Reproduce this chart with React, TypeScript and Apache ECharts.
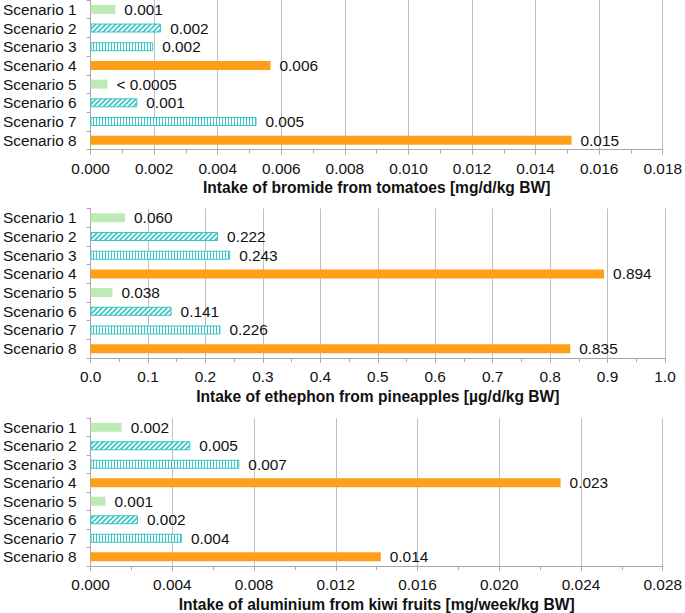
import React, { useEffect, useRef } from "react";
import * as echarts from "echarts";

const categories = [
  "Scenario 1",
  "Scenario 2",
  "Scenario 3",
  "Scenario 4",
  "Scenario 5",
  "Scenario 6",
  "Scenario 7",
  "Scenario 8",
];

// Panel 1: bromide from tomatoes [mg/d/kg BW]
const bromideValues = [0.00078, 0.00222, 0.00197, 0.00566, 0.00053, 0.00147, 0.00522, 0.01513];
const bromideLabels = ["0.001", "0.002", "0.002", "0.006", "< 0.0005", "0.001", "0.005", "0.015"];

// Panel 2: ethephon from pineapples [µg/d/kg BW]
const ethephonValues = [0.060, 0.222, 0.243, 0.894, 0.038, 0.141, 0.226, 0.835];
const ethephonLabels = ["0.060", "0.222", "0.243", "0.894", "0.038", "0.141", "0.226", "0.835"];

// Panel 3: aluminium from kiwi fruits [mg/week/kg BW]
const aluminiumValues = [0.00152, 0.00488, 0.00728, 0.0230, 0.00073, 0.00232, 0.00447, 0.0142];
const aluminiumLabels = ["0.002", "0.005", "0.007", "0.023", "0.001", "0.002", "0.004", "0.014"];

const axisTitles = [
  "Intake of bromide from tomatoes [mg/d/kg BW]",
  "Intake of ethephon from pineapples [µg/d/kg BW]",
  "Intake of aluminium from kiwi fruits [mg/week/kg BW]",
];

const FONT = "'Liberation Sans', Arial, sans-serif";
const GREEN = "#BDEAB5";
const TEAL = "#35C6C6";
const ORANGE = "#FF9F19";
const GRID_GRAY = "#C0C0C0";
const AXIS_GRAY = "#A8A8A8";

function diagPattern() {
  const c = document.createElement("canvas");
  const s = 5;
  c.width = s;
  c.height = s;
  const ctx = c.getContext("2d")!;
  ctx.fillStyle = "#ffffff";
  ctx.fillRect(0, 0, s, s);
  ctx.strokeStyle = TEAL;
  ctx.lineWidth = 1.6;
  ctx.beginPath();
  ctx.moveTo(-1, s + 1);
  ctx.lineTo(s + 1, -1);
  ctx.moveTo(-1, 1);
  ctx.lineTo(1, -1);
  ctx.moveTo(s - 1, s + 1);
  ctx.lineTo(s + 1, s - 1);
  ctx.stroke();
  return { image: c, repeat: "repeat" };
}

function vertPattern() {
  const c = document.createElement("canvas");
  c.width = 3;
  c.height = 3;
  const ctx = c.getContext("2d")!;
  ctx.fillStyle = "#ffffff";
  ctx.fillRect(0, 0, 3, 3);
  ctx.fillStyle = TEAL;
  ctx.fillRect(0, 0, 1, 3);
  return { image: c, repeat: "repeat" };
}

export default function App() {
  const ref = useRef<HTMLDivElement>(null);

  useEffect(() => {
    if (!ref.current) return;
    const chart = echarts.init(ref.current, null, { renderer: "svg" });
    const diag = diagPattern();
    const vert = vertPattern();
    const styleFor = (i: number) => {
      const k = i % 4;
      if (k === 0) return { color: GREEN };
      if (k === 1) return { color: diag, borderColor: TEAL, borderWidth: 1 };
      if (k === 2) return { color: vert, borderColor: TEAL, borderWidth: 1 };
      return { color: ORANGE };
    };

    const panels = [
      { values: bromideValues, labels: bromideLabels, max: 0.018, interval: 0.002, digits: 3 },
      { values: ethephonValues, labels: ethephonLabels, max: 1.0, interval: 0.1, digits: 1 },
      { values: aluminiumValues, labels: aluminiumLabels, max: 0.028, interval: 0.004, digits: 3 },
    ];
    const tops = [0, 208.5, 418];

    const option: any = {
      animation: false,
      backgroundColor: "#ffffff",
      grid: tops.map((t) => ({ left: 89, right: 20, top: t, height: 149.5, containLabel: false })),
      xAxis: panels.map((p, i) => ({
        type: "value",
        gridIndex: i,
        min: 0,
        max: p.max,
        interval: p.interval,
        name: axisTitles[i],
        nameLocation: "middle",
        nameGap: 30,
        nameTextStyle: { fontFamily: FONT, fontSize: 15.6, fontWeight: "bold", color: "#111" },
        axisLine: { show: true, lineStyle: { color: AXIS_GRAY, width: 1 } },
        axisTick: { show: true, length: 5, lineStyle: { color: AXIS_GRAY } },
        minorTick: { show: true, splitNumber: 2, length: 4, lineStyle: { color: AXIS_GRAY } },
        splitLine: { show: true, lineStyle: { color: GRID_GRAY, width: 1 } },
        axisLabel: {
          margin: 11,
          fontFamily: FONT,
          fontSize: 15.4,
          color: "#111",
          formatter: (v: number) => v.toFixed(p.digits),
        },
      })),
      yAxis: panels.map((_, i) => ({
        type: "category",
        gridIndex: i,
        data: categories,
        inverse: true,
        axisLine: { show: true, lineStyle: { color: AXIS_GRAY, width: 1 } },
        axisTick: { show: true, length: 4, interval: 0, lineStyle: { color: AXIS_GRAY } },
        axisLabel: { interval: 0, margin: 14, fontFamily: FONT, fontSize: 15.4, color: "#111" },
        splitLine: { show: false },
      })),
      series: panels.map((p, i) => ({
        type: "bar",
        xAxisIndex: i,
        yAxisIndex: i,
        barWidth: 9,
        data: p.values.map((v, j) => ({ value: v, itemStyle: styleFor(j) })),
        label: {
          show: true,
          position: "right",
          distance: 9,
          fontFamily: FONT,
          fontSize: 15.4,
          color: "#111",
          formatter: (params: any) => p.labels[params.dataIndex],
        },
      })),
    };
    chart.setOption(option);
    return () => chart.dispose();
  }, []);

  return (
    <div
      ref={ref}
      style={{ position: "fixed", left: 0, top: 0, width: 685, height: 613, background: "#fff" }}
    />
  );
}
